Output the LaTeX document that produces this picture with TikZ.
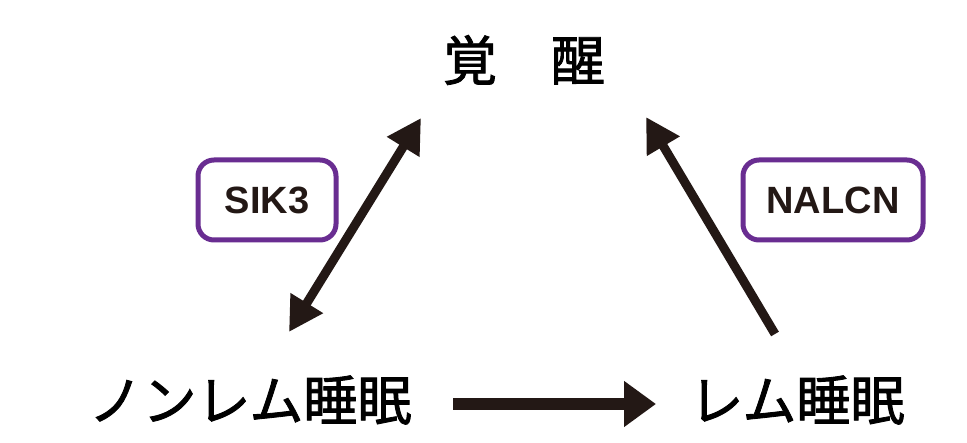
\documentclass[tikz,border=0pt]{standalone}
\usepackage{fontspec}
\setmainfont{Liberation Sans}
\newfontfamily\jp[FakeBold=1.6]{Noto Sans CJK JP}
\usetikzlibrary{arrows.meta}
\definecolor{arrowblk}{RGB}{35,24,21}
\definecolor{boxpurple}{RGB}{105,45,145}
\tikzset{
  jplabel/.style={font=\jp\fontsize{54}{54}\selectfont, text=black, inner sep=0pt},
  genebox/.style={draw=boxpurple, line width=5pt, rounded corners=16pt, fill=white,
    font=\bfseries\fontsize{38}{38}\selectfont, text=arrowblk, minimum height=80pt, inner sep=0pt},
  bigarrow/.style={draw=arrowblk, line width=9pt, line cap=butt},
}
\begin{document}
\begin{tikzpicture}[x=1pt,y=-1pt]
\useasboundingbox[fill=white] (0,0) rectangle (967,443);
\node[jplabel] (wake) at (524,60) {覚　醒};
\node[jplabel] (nrem) at (250,400) {ノンレム睡眠};
\node[jplabel] (rem) at (797,400) {レム睡眠};
\node[genebox, minimum width=138pt] (sik3) at (267,200) {SIK3};
\node[genebox, minimum width=180pt] (nalcn) at (833,200) {NALCN};
\coordinate (s1) at (289,332);
\coordinate (s2) at (421,118);
\coordinate (n1) at (775,334);
\coordinate (n2) at (646,117);
\coordinate (h1) at (453,404);
\coordinate (h2) at (656,404);
\draw[bigarrow, {Triangle[length=34pt,width=36pt]}-{Triangle[length=34pt,width=36pt]}] (s1) -- (s2);
\draw[bigarrow, -{Triangle[length=34pt,width=36pt]}] (n1) -- (n2);
\draw[bigarrow, line width=12pt, -{Triangle[length=32pt,width=44pt]}] (h1) -- (h2);
\end{tikzpicture}
\end{document}
